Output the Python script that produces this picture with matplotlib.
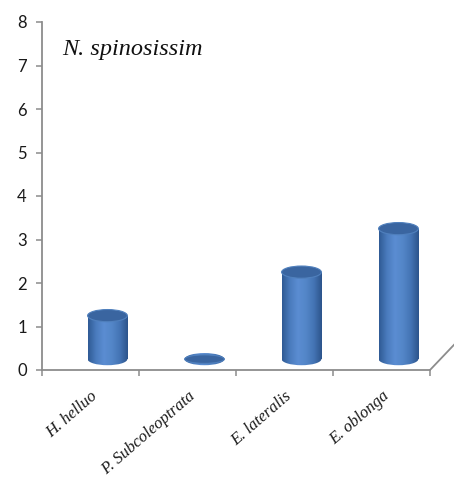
import numpy as np
import matplotlib
matplotlib.use("Agg")
from matplotlib import pyplot as plt
from matplotlib.patches import Ellipse
from matplotlib.colors import LinearSegmentedColormap

# Counts per species
species = ["H. helluo", "P. Subcoleoptrata", "E. lateralis", "E. oblonga"]
counts = [1, 0, 2, 3]
title = "N. spinosissim"
yticks = [0, 1, 2, 3, 4, 5, 6, 7, 8]

# 3d look: cylinders sit a bit back on the floor
depth_x = 0.175
depth_y = 0.25
bar_w = 0.41
cap_h = 0.28

grey = "#8c8c8c"
body_cmap = LinearSegmentedColormap.from_list(
    "cyl", ["#2f5a94", "#4a7bbd", "#5b8dd2", "#5386c8", "#4474b4", "#2c548b"])

fig = plt.figure(figsize=(4.54, 4.8), dpi=100)
ax = fig.add_axes([42/454, 1 - 370/480, 1 - 42/454, 348/480])
ax.set_xlim(0, 412/97)
ax.set_ylim(0, 8)

grad = np.linspace(0, 1, 256).reshape(1, -1)

for i, v in enumerate(counts):
    cx = i + 0.5 + depth_x
    x0, x1 = cx - bar_w/2, cx + bar_w/2
    # body as a bar, shaded left to right
    bar = ax.bar(cx, v, bottom=depth_y, width=bar_w, color="none", edgecolor="none")[0]
    im = ax.imshow(grad, cmap=body_cmap, aspect="auto", zorder=2,
                   extent=(x0, x1, depth_y - cap_h, depth_y + v + cap_h))
    im.set_clip_path(bar)
    base = Ellipse((cx, depth_y), bar_w, cap_h, facecolor="none", edgecolor="none")
    ax.add_patch(base)
    im2 = ax.imshow(grad, cmap=body_cmap, aspect="auto", zorder=2,
                    extent=(x0, x1, depth_y - cap_h, depth_y + v + cap_h))
    im2.set_clip_path(base)
    # top cap
    ax.add_patch(Ellipse((cx, depth_y + v), bar_w, cap_h if v > 0 else cap_h*0.7,
                         facecolor="#3a65a0", edgecolor="#5080bd", lw=0.8, zorder=3))

# axes lines
for s in ["top", "right"]:
    ax.spines[s].set_visible(False)
ax.spines["left"].set_color(grey)
ax.spines["bottom"].set_color(grey)
ax.spines["left"].set_linewidth(1.3)
ax.spines["bottom"].set_linewidth(1.3)
ax.spines["bottom"].set_bounds(0, 4)
ax.plot([4, 4 + 0.6], [0, 0.6*97/43.5*1.05], color=grey, lw=1.3, clip_on=True)

ax.set_yticks(yticks)
ax.set_yticklabels([str(t) for t in yticks], fontsize=12, family="Lato", color="#1a1a1a")
ax.tick_params(axis="y", direction="out", length=4, width=1.1, color=grey, pad=7)

ax.set_xticks(np.arange(5), minor=True)
ax.set_xticks(np.arange(4) + 0.5)
ax.set_xticklabels(species, rotation=41, ha="right", rotation_mode="anchor",
                   fontsize=12, family="Liberation Serif", style="italic", color="#1a1a1a")
ax.tick_params(axis="x", which="major", length=0, pad=13)
ax.tick_params(axis="x", which="minor", direction="out", length=4, width=1.1, color=grey)

ax.text(20/412, (370 - 55)/348, title, transform=ax.transAxes, fontsize=17.5,
        family="Liberation Serif", style="italic", va="baseline", color="#111111")

fig.savefig("out.png", dpi=100)
